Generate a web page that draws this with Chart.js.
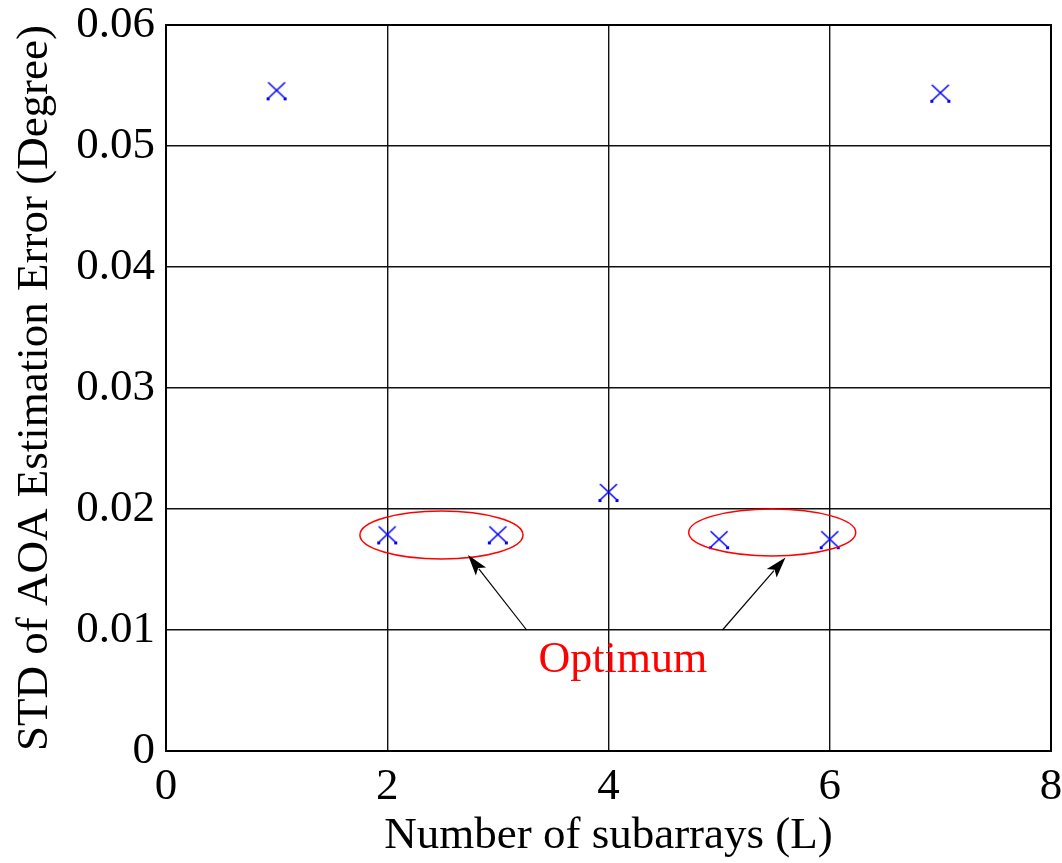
<!DOCTYPE html>
<html>
<head>
<meta charset="utf-8">
<script src="https://cdn.jsdelivr.net/npm/chart.js@4/dist/chart.umd.min.js"></script>
<style>
  html, body { margin: 0; padding: 0; background: #fff; }
  #wrap { width: 1062px; height: 863px; }
</style>
</head>
<body>
<div id="wrap"><canvas id="myChart" width="1062" height="863"></canvas></div>
<script>
// number of subarrays and the measured std of the AOA error
var subarrays = [1, 2, 3, 4, 5, 6, 7];
var stdError = [0.0546, 0.0179, 0.0179, 0.0214, 0.0175, 0.0175, 0.0544];

var xTicks = [0, 2, 4, 6, 8];
var yTicks = [0, 0.01, 0.02, 0.03, 0.04, 0.05, 0.06];

// the two "optimum" groups: centre x, centre y, radius x, radius y
var optCenterX = [2.49, 5.48];
var optCenterY = [0.01785, 0.01806];
var optRadiusX = [0.737, 0.755];
var optRadiusY = [0.00198, 0.00194];
// arrows from the label up to each ellipse
var arrowFromX = [3.26, 5.03];
var arrowFromY = [0.0100, 0.0100];
var arrowToX = [2.73, 5.6];
var arrowToY = [0.0162, 0.0160];
var optLabel = "Optimum";
var optLabelX = 4.13;
var optLabelY = 0.0065;

var serif = "'Liberation Serif', 'Times New Roman', serif";

// matlab style 'x' marker with the little dots on the lower ends
var marker = document.createElement("canvas");
marker.width = 24;
marker.height = 24;
(function () {
	var c = marker.getContext("2d");
	c.strokeStyle = "#0000ff";
	c.lineWidth = 1.6;
	c.beginPath();
	c.moveTo(3.5, 4); c.lineTo(20.5, 20);
	c.moveTo(20.5, 4); c.lineTo(3.5, 20);
	c.stroke();
	c.fillStyle = "#0000ff";
	c.fillRect(2, 19, 3, 3);
	c.fillRect(19, 19, 3, 3);
})();

var pts = [];
for (var i = 0; i < subarrays.length; i++) {
	pts.push({x: subarrays[i], y: stdError[i]});
}

// keep tick labels from pushing the plot box inward
function noEdgePadding(s) {
	s.paddingTop = 0;
	s.paddingBottom = 0;
	s.paddingLeft = 0;
	s.paddingRight = 0;
}

var annotations = {
	id: "annotations",
	afterDraw: function (chart) {
		var ctx = chart.ctx;
		var xs = chart.scales.x, ys = chart.scales.y;
		var a = chart.chartArea;
		ctx.save();
		// box around the plot
		ctx.strokeStyle = "#000";
		ctx.lineWidth = 2;
		ctx.strokeRect(a.left, a.top, a.right - a.left, a.bottom - a.top);

		ctx.strokeStyle = "#ff0000";
		ctx.lineWidth = 1.5;
		for (var k = 0; k < optCenterX.length; k++) {
			var cx = xs.getPixelForValue(optCenterX[k]);
			var cy = ys.getPixelForValue(optCenterY[k]);
			var rx = xs.getPixelForValue(optCenterX[k] + optRadiusX[k]) - cx;
			var ry = cy - ys.getPixelForValue(optCenterY[k] + optRadiusY[k]);
			ctx.beginPath();
			ctx.ellipse(cx, cy, rx, ry, 0, 0, Math.PI * 2);
			ctx.stroke();
		}

		ctx.strokeStyle = "#000";
		ctx.fillStyle = "#000";
		ctx.lineWidth = 1.2;
		for (var k = 0; k < arrowFromX.length; k++) {
			var x0 = xs.getPixelForValue(arrowFromX[k]), y0 = ys.getPixelForValue(arrowFromY[k]);
			var x1 = xs.getPixelForValue(arrowToX[k]), y1 = ys.getPixelForValue(arrowToY[k]);
			var ang = Math.atan2(y1 - y0, x1 - x0);
			var len = 22, half = 0.3;
			ctx.beginPath();
			ctx.moveTo(x0, y0);
			ctx.lineTo(x1 - Math.cos(ang) * len * 0.8, y1 - Math.sin(ang) * len * 0.8);
			ctx.stroke();
			ctx.beginPath();
			ctx.moveTo(x1, y1);
			ctx.lineTo(x1 - len * Math.cos(ang - half), y1 - len * Math.sin(ang - half));
			ctx.lineTo(x1 - len * 0.75 * Math.cos(ang), y1 - len * 0.75 * Math.sin(ang));
			ctx.lineTo(x1 - len * Math.cos(ang + half), y1 - len * Math.sin(ang + half));
			ctx.closePath();
			ctx.fill();
		}

		ctx.fillStyle = "#ff0000";
		ctx.font = "44px " + serif;
		ctx.textAlign = "center";
		ctx.textBaseline = "alphabetic";
		ctx.fillText(optLabel, xs.getPixelForValue(optLabelX), ys.getPixelForValue(optLabelY));
		ctx.restore();
	}
};

new Chart("myChart", {
	type: "scatter",
	data: {
		datasets: [{
			data: pts,
			pointStyle: marker,
			pointRadius: 8,
			pointHoverRadius: 8
		}]
	},
	options: {
		responsive: false,
		animation: false,
		layout: { padding: { top: 25, right: 11, left: 8, bottom: 0 } },
		plugins: {
			legend: { display: false },
			tooltip: { enabled: false }
		},
		scales: {
			x: {
				type: "linear",
				min: 0,
				max: 8,
				afterBuildTicks: function (s) { s.ticks = xTicks.map(function (v) { return {value: v}; }); },
				afterFit: function (s) { s.height = 112; noEdgePadding(s); },
				grid: { color: "#111", lineWidth: 1.4, drawTicks: false },
				border: { color: "#000", width: 2 },
				ticks: { color: "#000", padding: 9, font: { family: serif, size: 45 } },
				title: { display: true, text: "Number of subarrays (L)", color: "#000", padding: { top: 0, bottom: 0 }, font: { family: serif, size: 45 } }
			},
			y: {
				type: "linear",
				min: 0,
				max: 0.06,
				afterBuildTicks: function (s) { s.ticks = yTicks.map(function (v) { return {value: v}; }); },
				afterFit: function (s) { s.width = 158; noEdgePadding(s); },
				grid: { color: "#111", lineWidth: 1.4, drawTicks: false },
				border: { color: "#000", width: 2 },
				ticks: {
					color: "#000", padding: 11, font: { family: serif, size: 45 },
					callback: function (v) { return v === 0 ? "0" : v.toFixed(2); }
				},
				title: { display: true, text: "STD of AOA Estimation Error (Degree)", color: "#000", padding: { top: 0, bottom: 0 }, font: { family: serif, size: 45 } }
			}
		}
	},
	plugins: [annotations]
});
</script>
</body>
</html>
